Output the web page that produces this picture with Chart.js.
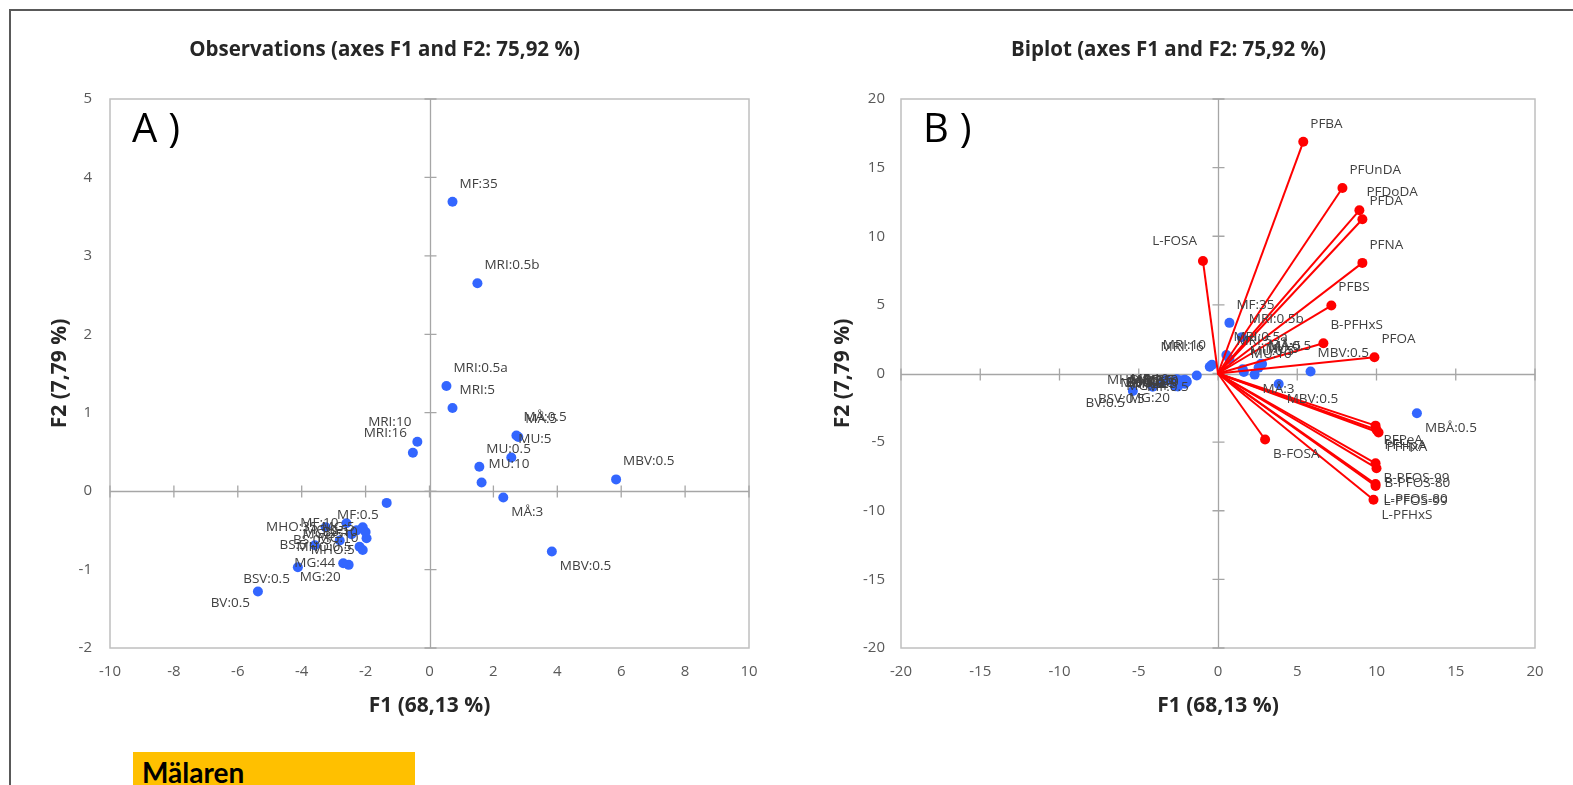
<!DOCTYPE html>
<html><head><meta charset="utf-8">
<script src="https://cdn.jsdelivr.net/npm/chart.js@4.4.1/dist/chart.umd.min.js"></script>
<style>
html,body{margin:0;padding:0;background:#fff;width:1573px;height:785px;overflow:hidden;position:relative;}
#frame{position:absolute;left:9px;top:9px;width:1600px;height:900px;border:2px solid #595959;box-sizing:border-box;}
#w1{position:absolute;left:0;top:0;width:802px;height:730px;}
#w2{position:absolute;left:802px;top:0;width:764px;height:730px;}
#lake{position:absolute;left:133px;top:752px;width:282px;height:60px;background:#FFC000;box-sizing:border-box;padding:6px 0 0 9px;font:bold 28px Lato, sans-serif;line-height:28px;color:#000;}
</style></head>
<body>
<div id="frame"></div>
<div id="w1"><canvas id="c1" width="802" height="730"></canvas></div>
<div id="w2"><canvas id="c2" width="764" height="730"></canvas></div>
<div id="lake">Mälaren</div>
<script>
// ---- Observations (F1, F2) ----
const obsNames = ["MF:35","MRI:0.5b","MRI:0.5a","MRI:5","MRI:10","MRI:16","MÅ:5","MÅ:0.5","MU:5","MU:0.5","MU:10","MBV:0.5","MÅ:3","MBV:0.5","MBÅ:0.5","MF:0.5",
  "MHO:35","MF:10","MG:0.5","MG:5","MG:10","MHO:0.5","MHO:5","BS:0.5","BS:5","BSV:0.5","MG:20","MG:44","BV:0.5","MG:35","BS:10"];
const obsF1 = [0.72,1.50,0.53,0.72,-0.38,-0.52,2.78,2.72,2.56,1.56,1.63,5.84,2.31,3.83,12.55,-1.34,
  -3.25,-2.60,-2.28,-2.09,-1.97,-2.19,-2.09,-2.81,-3.59,-4.12,-2.53,-2.70,-5.37,-2.44,-2.00];
const obsF2 = [3.69,2.65,1.34,1.06,0.63,0.49,0.69,0.71,0.43,0.31,0.11,0.15,-0.08,-0.77,-2.90,-0.15,
  -0.46,-0.41,-0.50,-0.46,-0.60,-0.71,-0.75,-0.63,-0.69,-0.97,-0.94,-0.92,-1.28,-0.55,-0.52];
const obsLabelPlace = ["ar","ar","ar","ar","al","al","ar","ar","ar","ar","ar","ar","br","br","br","bl",
  "l","l","l","l","l","l","l","l","l","bl","bl","l","bl","l","l"];

// ---- Variables (biplot vectors) ----
const varNames = ["PFBA","PFUnDA","PFDoDA","PFDA","PFNA","PFBS","B-PFHxS","PFOA","L-FOSA","B-FOSA","PFPeA","PFHpA","PFHxA","B-PFOS-99","B-PFOS-80","L-PFOS-80","L-PFOS-99","L-PFHxS"];
const varF1 = [5.38,7.85,8.92,9.11,9.11,7.15,6.65,9.87,-0.95,2.97,9.94,10.00,10.13,9.94,10.00,9.94,9.94,9.81];
const varF2 = [16.88,13.52,11.89,11.24,8.06,4.95,2.20,1.19,8.20,-4.81,-3.80,-4.10,-4.30,-6.54,-6.90,-8.06,-8.20,-9.20];
const varLabelPlace = ["ar","ar","ar","ar","ar","ar","ar","ar","al","br","br","br","br","br","br","br","br","br"];

// ---- Axis / title texts ----
const axisTitleF1 = "F1 (68,13 %)";
const axisTitleF2 = "F2 (7,79 %)";
const titleA = "Observations (axes F1 and F2: 75,92 %)";
const titleB = "Biplot (axes F1 and F2: 75,92 %)";

const BLUE = '#3366FF', RED = '#FF0000';
const PLACE = { ar:[7,-18,'left'], br:[8,15,'left'], al:[-6,-20,'right'], bl:[-8,12,'right'], l:[-8,0,'right'], r:[8,0,'left'] };

const decorPlugin = {
  id:'decor',
  beforeDatasetsDraw(chart, args, opts){
    const {ctx, chartArea:a} = chart; const xs = chart.scales.x, ys = chart.scales.y;
    ctx.save();
    ctx.strokeStyle = '#BFBFBF'; ctx.lineWidth = 1.5;
    ctx.strokeRect(a.left, a.top, a.right-a.left, a.bottom-a.top);
    const x0 = Math.round(xs.getPixelForValue(0))+0.5, y0 = Math.round(ys.getPixelForValue(0))+0.5;
    ctx.strokeStyle = '#A6A6A6'; ctx.lineWidth = 1.3;
    ctx.beginPath();
    ctx.moveTo(x0, a.top); ctx.lineTo(x0, a.bottom);
    ctx.moveTo(a.left, y0); ctx.lineTo(a.right, y0);
    xs.ticks.forEach(t=>{ const px = xs.getPixelForValue(t.value); ctx.moveTo(px, y0-6); ctx.lineTo(px, y0+6); });
    ys.ticks.forEach(t=>{ const py = ys.getPixelForValue(t.value); ctx.moveTo(x0-6, py); ctx.lineTo(x0+6, py); });
    ctx.stroke();
    ctx.fillStyle = '#000'; ctx.font = '40px "Open Sans"'; ctx.textBaseline = 'middle'; ctx.textAlign='left';
    try { ctx.letterSpacing = '11px'; } catch(e){}
    ctx.fillText(opts.tag, a.left + 22, a.top + 32);
    ctx.restore();
  },
  afterDatasetsDraw(chart){
    const {ctx, chartArea:a} = chart; const xs = chart.scales.x, ys = chart.scales.y;
    ctx.save();
    ctx.beginPath(); ctx.rect(a.left, a.top, a.right-a.left, a.bottom-a.top); ctx.clip();
    ctx.font = '13.5px "Open Sans"'; ctx.fillStyle = '#404040'; ctx.textBaseline = 'middle';
    chart.data.datasets.forEach(ds=>{
      if (!ds.labelTexts) return;
      ds.data.forEach((p,i)=>{
        const txt = ds.labelTexts[i]; if (!txt) return;
        const pl = PLACE[ds.labelPlace[i]];
        const px = xs.getPixelForValue(p.x), py = ys.getPixelForValue(p.y);
        ctx.textAlign = pl[2];
        ctx.fillText(txt, px + pl[0], py + pl[1]);
      });
    });
    ctx.restore();
  }
};

function scaleOpts(min, max, step, title, isX, width, tickPad, titlePad){
  return {
    type:'linear', min, max,
    ticks:{ stepSize:step, color:'#595959', font:{family:'"Open Sans"', size:15}, padding:tickPad },
    grid:{ display:false, drawTicks:false },
    border:{ display:false },
    title:{ display:true, text:title, color:'#262626', font:{family:'"Open Sans"', size:21, weight:'bold'},
      padding: isX ? {top:0,bottom:titlePad} : {top:titlePad,bottom:0} },
    afterFit: isX ? (s)=>{ s.height = 72; } : (s)=>{ s.width = width; }
  };
}

function obsDataset(){
  return { label:'Observations', data: obsF1.map((x,i)=>({x, y:obsF2[i]})), backgroundColor:BLUE, borderWidth:0,
    pointRadius:5, pointHoverRadius:5, showLine:false, labelTexts: obsNames, labelPlace: obsLabelPlace };
}
const titleFont = {family:'"Open Sans"', size:20.5, weight:'bold'};

// Chart A
new Chart(document.getElementById('c1'), {
  type:'scatter',
  data:{ datasets:[ obsDataset() ] },
  options:{
    responsive:false, animation:false, events:[],
    layout:{ padding:{left:20, right:53, top:0, bottom:10} },
    plugins:{ legend:{display:false}, tooltip:{enabled:false},
      title:{ display:true, text:titleA, color:'#262626', font:titleFont, padding:{top:38,bottom:36.4} },
      decor:{ tag:'A)' } },
    scales:{ x: scaleOpts(-10,10,2,axisTitleF1,true,0,15,1.4), y: scaleOpts(-2,5,1,axisTitleF2,false,90,18,27.4) }
  },
  plugins:[decorPlugin]
});

// Chart B
const vecDatasets = varNames.map((n,i)=>({
  label:n, data:[{x:0,y:0},{x:varF1[i], y:varF2[i]}], showLine:true, borderColor:RED, borderWidth:2,
  backgroundColor:RED, pointRadius:[0,5], pointHoverRadius:[0,5], pointBorderWidth:0,
  labelTexts:['', n], labelPlace:[null, varLabelPlace[i]]
}));
new Chart(document.getElementById('c2'), {
  type:'scatter',
  data:{ datasets:[ ...vecDatasets, obsDataset() ] },
  options:{
    responsive:false, animation:false, events:[],
    layout:{ padding:{left:0, right:31, top:0, bottom:10} },
    plugins:{ legend:{display:false}, tooltip:{enabled:false},
      title:{ display:true, text:titleB, color:'#262626', font:titleFont, padding:{top:38,bottom:36.4} },
      decor:{ tag:'B)' } },
    scales:{ x: scaleOpts(-20,20,5,axisTitleF1,true,0,15,1.4), y: scaleOpts(-20,20,5,axisTitleF2,false,99,16,28.4) }
  },
  plugins:[decorPlugin]
});
</script>
</body></html>
